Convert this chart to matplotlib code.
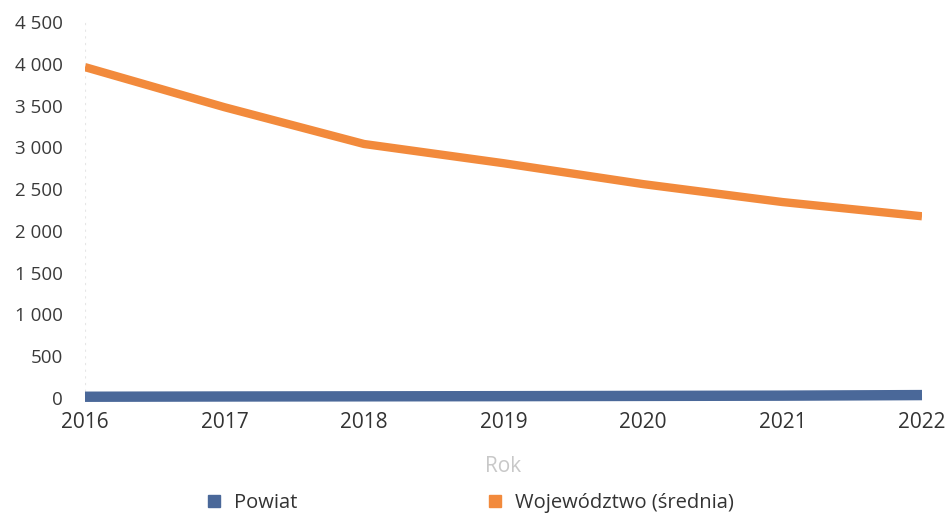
import matplotlib.pyplot as plt
from matplotlib.lines import Line2D
from matplotlib.ticker import FuncFormatter

plt.rcParams['font.family'] = ['Open Sans', 'DejaVu Sans']

lata = [2016, 2017, 2018, 2019, 2020, 2021, 2022]
powiat = [15, 18, 20, 22, 25, 28, 35]
wojewodztwo = [3960, 3480, 3040, 2810, 2560, 2345, 2175]

kolor_powiat = '#4a6899'
kolor_woj = '#f28a3c'

fig = plt.figure(figsize=(9.51, 5.22), dpi=100)
ax = fig.add_axes([85 / 951, (522 - 398) / 522, (922 - 85) / 951, (398 - 22) / 522])

ax.plot(lata, wojewodztwo, color=kolor_woj, lw=6, solid_capstyle='butt', solid_joinstyle='round', zorder=3)
ax.plot(lata, powiat, color=kolor_powiat, lw=7.5, solid_capstyle='butt', zorder=3, clip_on=False)

ax.set_xlim(2016, 2022)
ax.set_ylim(0, 4500)
ax.set_yticks(range(0, 4501, 500))
ax.yaxis.set_major_formatter(FuncFormatter(lambda v, p: f'{int(v):,}'.replace(',', ' ')))
ax.set_xticks(lata)

for s in ax.spines.values():
    s.set_visible(False)
ax.axvline(2016, color='#e6e6e6', lw=0.8, ls=(0, (2, 4)), zorder=1)
ax.tick_params(axis='y', length=0, pad=16, labelsize=13.5, labelcolor='#3a3a3a')
ax.tick_params(axis='x', length=0, pad=10, labelsize=15, labelcolor='#333333')

ax.set_xlabel('Rok', color='#c8c8c8', fontsize=15, labelpad=17)

uchwyty = [Line2D([], [], marker='s', ls='none', color=kolor_powiat, markersize=9),
           Line2D([], [], marker='s', ls='none', color=kolor_woj, markersize=9)]
fig.legend(uchwyty, ['Powiat', 'Województwo (średnia)'], loc='lower left',
           bbox_to_anchor=(176 / 951, -0.018), ncol=2, frameon=False, fontsize=14.5,
           columnspacing=8.8, handletextpad=0.0, labelcolor='#333333')

fig.savefig('out.png', dpi=100)
